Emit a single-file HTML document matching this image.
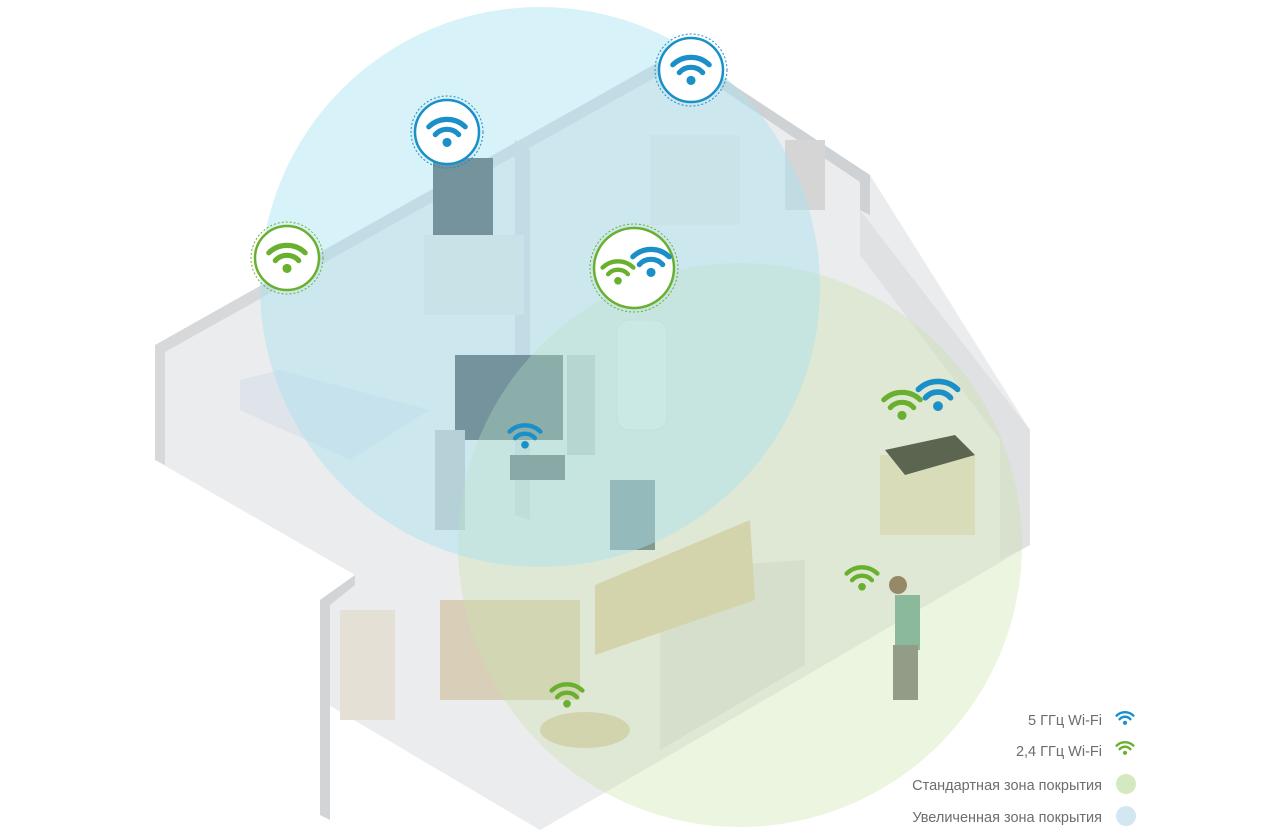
<!DOCTYPE html>
<html><head><meta charset="utf-8"><style>
body{margin:0;background:#fff;width:1280px;height:837px;overflow:hidden}
svg{display:block}
.lg{font-family:"Liberation Sans",sans-serif;font-size:14.5px;fill:#6d6d6d}
</style></head><body>
<svg width="1280" height="837" viewBox="0 0 1280 837">
<defs>
<g id="wf"><path d="M-14,-4 A20,20 0 0 1 14,-4" fill="none" stroke-width="4" stroke-linecap="round"/><path d="M-9,2 A12,12 0 0 1 9,2" fill="none" stroke-width="4" stroke-linecap="round"/><circle cx="0" cy="8" r="3.5" stroke="none"/></g>
</defs>
<polygon points="155,345 680,50 870,175 1030,430 1030,545 670,755 540,830 320,700 320,600 355,575 155,460" fill="#ebeced"/>
<polygon points="155,345 680,50 690,58 165,352 165,465 155,460" fill="#d6d8da"/>
<polygon points="680,50 870,175 870,215 860,210 860,182 690,68" fill="#cfd2d4"/>
<polygon points="860,210 1030,430 1030,545 1000,560 1000,440 860,255" fill="#dcdee0" opacity=".8"/>
<polygon points="320,600 355,575 355,585 330,605 330,820 320,815" fill="#d2d4d6"/>
<polygon points="515,140 530,150 530,520 515,515" fill="#d6d8da"/>
<polygon points="660,570 805,560 805,665 660,750" fill="#d8dadc" opacity=".8"/>
<polygon points="595,585 750,520 755,600 595,655" fill="#d9cdb0"/>
<polygon points="240,380 280,370 430,410 350,460 240,410" fill="#dfe3ea"/>
<rect x="433" y="158" width="60" height="78" fill="#4a5257"/>
<rect x="424" y="235" width="100" height="80" fill="#e2e2e0"/>
<rect x="455" y="355" width="108" height="85" fill="#4a5257"/>
<rect x="435" y="430" width="30" height="100" fill="#bfc1c2"/>
<rect x="567" y="355" width="28" height="100" fill="#bfc1c2"/>
<rect x="510" y="455" width="55" height="25" fill="#3c4348"/>
<rect x="617" y="320" width="50" height="110" rx="12" fill="#f4f4f4" stroke="#ddd"/>
<rect x="610" y="480" width="45" height="70" fill="#5f7386"/>
<rect x="340" y="610" width="55" height="110" fill="#e5e0d6"/>
<rect x="440" y="600" width="140" height="100" fill="#d9cfb8"/>
<ellipse cx="585" cy="730" rx="45" ry="18" fill="#d8cdb3"/>
<rect x="880" y="455" width="95" height="80" fill="#e2d9c4"/>
<polygon points="885,450 955,435 975,455 905,475" fill="#222"/>
<rect x="895" y="595" width="25" height="55" fill="#6aa395"/>
<rect x="893" y="645" width="25" height="55" fill="#777"/>
<circle cx="898" cy="585" r="9" fill="#7a5a48"/>
<rect x="650" y="135" width="90" height="90" fill="#e3e3e1"/>
<rect x="785" y="140" width="40" height="70" fill="#d5d5d5"/>
<circle cx="740" cy="545" r="282" fill="#c9e2a6" opacity=".35"/>
<circle cx="540" cy="287" r="280" fill="#a9e3f2" opacity=".45"/>
<g fill="none" stroke-width="1" stroke-dasharray="2,2">
<circle cx="287" cy="258" r="36" stroke="#6ab02f"/>
<circle cx="447" cy="132" r="36" stroke="#1a8fc8"/>
<circle cx="691" cy="70" r="36" stroke="#1a8fc8"/>
<circle cx="634" cy="268" r="44" stroke="#6ab02f"/>
</g>
<g fill="#fff" stroke-width="2.5">
<circle cx="287" cy="258" r="32" stroke="#6ab02f"/>
<circle cx="447" cy="132" r="32" stroke="#1a8fc8"/>
<circle cx="691" cy="70" r="32" stroke="#1a8fc8"/>
<circle cx="634" cy="268" r="40" stroke="#6ab02f"/>
</g>
<g fill="#6ab02f" stroke="#6ab02f"><use href="#wf" transform="translate(287,258) scale(1.3)"/><use href="#wf" transform="translate(618,272) scale(1.1)"/><use href="#wf" transform="translate(902,405) scale(1.3)"/><use href="#wf" transform="translate(862,578) scale(1.1)"/><use href="#wf" transform="translate(567,695) scale(1.1)"/><use href="#wf" transform="translate(1125,748) scale(.6)"/></g>
<g fill="#1a8fc8" stroke="#1a8fc8"><use href="#wf" transform="translate(447,132) scale(1.3)"/><use href="#wf" transform="translate(691,70) scale(1.3)"/><use href="#wf" transform="translate(651,262) scale(1.3)"/><use href="#wf" transform="translate(938,395) scale(1.4)"/><use href="#wf" transform="translate(525,436) scale(1.1)"/><use href="#wf" transform="translate(1125,718) scale(.6)"/></g>
<text class="lg" x="1102" y="725" text-anchor="end">5 ГГц Wi-Fi</text>
<text class="lg" x="1102" y="756" text-anchor="end">2,4 ГГц Wi-Fi</text>
<text class="lg" x="1102" y="790" text-anchor="end">Стандартная зона покрытия</text>
<text class="lg" x="1102" y="822" text-anchor="end">Увеличенная зона покрытия</text>
<circle cx="1126" cy="784" r="10" fill="#d4e9c0"/>
<circle cx="1126" cy="816" r="10" fill="#d2e7f2"/>
</svg>
</body></html>
